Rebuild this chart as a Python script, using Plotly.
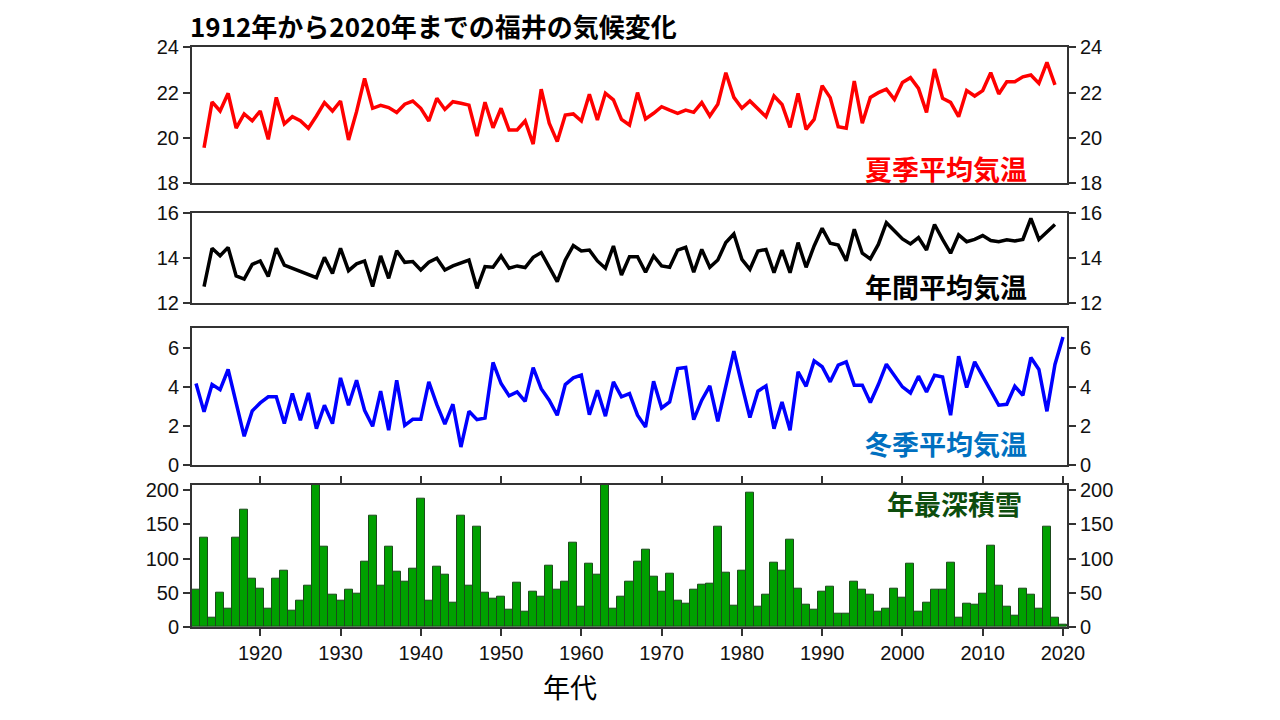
import plotly.graph_objects as go

years_all = list(range(1912, 2021))
years_mid = list(range(1913, 2020))

summer_temp = [19.57, 21.59, 21.19, 21.97, 20.43, 21.06, 20.76, 21.19, 19.94, 21.79,
               20.62, 20.94, 20.76, 20.43, 20.97, 21.56, 21.19, 21.63, 19.91, 21.16,
               22.63, 21.31, 21.44, 21.34, 21.12, 21.49, 21.63, 21.31, 20.75, 21.75,
               21.26, 21.60, 21.53, 21.45, 20.08, 21.58, 20.45, 21.31, 20.35, 20.35,
               20.75, 19.73, 22.15, 20.65, 19.84, 21.01, 21.06, 20.75, 21.93, 20.79,
               21.97, 21.68, 20.82, 20.57, 22.00, 20.84, 21.09, 21.38, 21.23, 21.09,
               21.23, 21.13, 21.56, 20.97, 21.49, 22.88, 21.79, 21.31, 21.63, 21.28,
               20.94, 21.85, 21.48, 20.47, 21.97, 20.38, 20.82, 22.31, 21.78, 20.50,
               20.43, 22.51, 20.65, 21.79, 22.00, 22.15, 21.70, 22.45, 22.66, 22.19,
               21.13, 23.04, 21.75, 21.57, 20.94, 22.09, 21.85, 22.09, 22.88, 21.94,
               22.48, 22.48, 22.70, 22.78, 22.41, 23.34, 22.34]

annual_temp = [12.74, 14.43, 14.10, 14.47, 13.21, 13.07, 13.72, 13.87, 13.18, 14.43,
               13.69, 13.56, 13.43, 13.28, 13.13, 14.03, 13.32, 14.43, 13.44, 13.74,
               13.87, 12.74, 14.09, 13.10, 14.32, 13.81, 13.84, 13.47, 13.81, 13.99,
               13.47, 13.65, 13.80, 13.91, 12.66, 13.62, 13.59, 14.09, 13.55, 13.65,
               13.58, 14.03, 14.24, 13.62, 12.96, 13.91, 14.55, 14.31, 14.35, 13.87,
               13.55, 14.53, 13.25, 14.06, 14.06, 13.37, 14.09, 13.65, 13.59, 14.35,
               14.47, 13.37, 14.38, 13.59, 13.91, 14.68, 15.06, 13.94, 13.50, 14.31,
               14.38, 13.35, 14.35, 13.35, 14.68, 13.59, 14.53, 15.31, 14.65, 14.57,
               13.88, 15.27, 14.21, 13.96, 14.60, 15.56, 15.21, 14.84, 14.62, 14.90,
               14.35, 15.48, 14.82, 14.21, 15.02, 14.72, 14.82, 14.99, 14.77, 14.72,
               14.80, 14.75, 14.82, 15.75, 14.82, 15.13, 15.48]

winter_temp = [4.17, 2.72, 4.12, 3.86, 4.89, 3.23, 1.47, 2.77, 3.18, 3.49,
               3.49, 2.12, 3.66, 2.29, 3.69, 1.86, 3.06, 2.12, 4.46, 3.06,
               4.34, 2.80, 1.98, 3.78, 1.78, 4.34, 2.03, 2.34, 2.34, 4.26,
               3.09, 2.09, 3.11, 0.92, 2.75, 2.32, 2.41, 5.25, 4.17, 3.54,
               3.74, 3.26, 4.99, 3.91, 3.32, 2.55, 4.12, 4.46, 4.60, 2.58,
               3.83, 2.50, 4.26, 3.49, 3.66, 2.55, 1.95, 4.29, 2.92, 3.23,
               4.94, 4.99, 2.32, 3.32, 4.05, 2.24, 4.03, 5.83, 4.09, 2.43,
               3.78, 4.05, 1.86, 3.23, 1.78, 4.77, 4.03, 5.33, 5.03, 4.26,
               5.11, 5.28, 4.09, 4.09, 3.20, 4.12, 5.16, 4.60, 4.00, 3.69,
               4.55, 3.74, 4.60, 4.51, 2.55, 5.57, 3.97, 5.28, 4.51, 3.74,
               3.06, 3.11, 4.03, 3.57, 5.50, 4.89, 2.75, 5.15, 6.56]

snow_depth = [55, 130, 13, 50, 27, 130, 171, 71, 56, 27,
              70, 82, 24, 38, 61, 215, 118, 47, 39, 55,
              49, 96, 162, 61, 118, 81, 66, 85, 188, 38,
              88, 77, 35, 162, 61, 147, 50, 42, 45, 26,
              65, 22, 52, 44, 89, 54, 66, 123, 29, 93,
              77, 215, 27, 44, 66, 96, 113, 74, 52, 78,
              38, 34, 55, 62, 64, 147, 80, 31, 82, 197,
              29, 47, 94, 82, 127, 56, 32, 26, 52, 59,
              20, 20, 66, 54, 47, 22, 27, 56, 43, 93,
              22, 36, 55, 54, 94, 13, 34, 32, 49, 119,
              61, 30, 17, 56, 47, 27, 147, 13, 3]

x_ticks = list(range(1920, 2021, 10))

AX = "#333333"
TICKFONT = dict(family="Liberation Sans, Arial", size=20, color="#111111")
JP = "Noto Sans CJK JP"

OFF = 8  # page body margin


def fx(px):
    return (px - OFF) / 1280


def fy(py):
    return 1 - (py - OFF) / 720


fig = go.Figure()

fig.add_trace(go.Scatter(x=years_mid, y=summer_temp, mode="lines",
                         line=dict(color="#FF0000", width=3.5), xaxis="x", yaxis="y", showlegend=False))
fig.add_trace(go.Scatter(x=years_mid, y=annual_temp, mode="lines",
                         line=dict(color="#000000", width=3.5), xaxis="x2", yaxis="y2", showlegend=False))
fig.add_trace(go.Scatter(x=years_all, y=winter_temp, mode="lines",
                         line=dict(color="#0000FF", width=3.5), xaxis="x3", yaxis="y3", showlegend=False))
fig.add_trace(go.Bar(x=years_all, y=snow_depth, marker=dict(color="#00A000", line=dict(color="#1B4A1B", width=1)),
                     xaxis="x4", yaxis="y4", showlegend=False))

for xa, ya, xs, ys in [("x", "y5", years_mid, summer_temp), ("x2", "y6", years_mid, annual_temp),
                       ("x3", "y7", years_all, winter_temp), ("x4", "y8", years_all, snow_depth)]:
    fig.add_trace(go.Scatter(x=xs, y=ys, mode="lines", opacity=0, hoverinfo="skip",
                             xaxis=xa, yaxis=ya, showlegend=False))

xdom = [fx(192), fx(1067)]
ydoms = [[fy(183.3), fy(47.3)], [fy(303.3), fy(212.7)],
         [fy(465), fy(328.3)], [fy(627), fy(484.7)]]
yranges = [[18, 24], [12, 16], [0, 7], [0, 208]]
yticks = [[18, 20, 22, 24], [12, 14, 16], [0, 2, 4, 6], [0, 50, 100, 150, 200]]

layout = dict(
    width=1280, height=720,
    margin=dict(l=0, r=0, t=0, b=0, autoexpand=False),
    paper_bgcolor="white", plot_bgcolor="white",
    bargap=0,
)

for i in range(4):
    n = "" if i == 0 else str(i + 1)
    xa = dict(domain=xdom, anchor="y" + n, range=[1911.5, 2020.5], showgrid=False, zeroline=False,
              showline=True, linecolor=AX, linewidth=2, mirror=True, automargin=False)
    if i == 3:
        xa.update(mirror="ticks", ticks="outside", ticklen=7, tickwidth=1.5, tickcolor=AX,
                  tickvals=x_ticks, tickfont=TICKFONT)
    else:
        xa.update(showticklabels=False, ticks="")
    layout["xaxis" + n] = xa
    ya = dict(domain=ydoms[i], anchor="x" + n, range=yranges[i], tickvals=yticks[i],
              showgrid=False, zeroline=False, showline=True, linecolor=AX, linewidth=2,
              ticks="outside", ticklen=7, tickwidth=1.5, tickcolor=AX, tickfont=TICKFONT,
              automargin=False)
    layout["yaxis" + n] = ya
    yr = dict(overlaying="y" + n, side="right", anchor="x" + n, range=yranges[i], tickvals=yticks[i],
              showgrid=False, zeroline=False, showline=True, linecolor=AX, linewidth=2,
              ticks="outside", ticklen=7, tickwidth=1.5, tickcolor=AX, tickfont=TICKFONT,
              automargin=False)
    layout["yaxis" + str(i + 5)] = yr

fig.update_layout(**layout)

annots = [
    dict(text="<b>1912年から2020年までの福井の気候変化</b>", x=fx(188), y=fy(25),
         xanchor="left", yanchor="middle", font=dict(family=JP, size=26, color="#000000")),
    dict(text="<b>夏季平均気温</b>", x=fx(946), y=fy(168), xanchor="center", yanchor="middle",
         font=dict(family=JP, size=27, color="#FF0000")),
    dict(text="<b>年間平均気温</b>", x=fx(946), y=fy(286), xanchor="center", yanchor="middle",
         font=dict(family=JP, size=27, color="#000000")),
    dict(text="<b>冬季平均気温</b>", x=fx(946), y=fy(443), xanchor="center", yanchor="middle",
         font=dict(family=JP, size=27, color="#0070C0")),
    dict(text="<b>年最深積雪</b>", x=fx(954), y=fy(503), xanchor="center", yanchor="middle",
         font=dict(family=JP, size=27, color="#0D4D0D")),
    dict(text="年代", x=fx(570), y=fy(686), xanchor="center", yanchor="middle",
         font=dict(family=JP, size=27, color="#000000")),
]
for a in annots:
    a.update(xref="paper", yref="paper", showarrow=False)
fig.update_layout(annotations=annots)

fig.write_html("out.html")
